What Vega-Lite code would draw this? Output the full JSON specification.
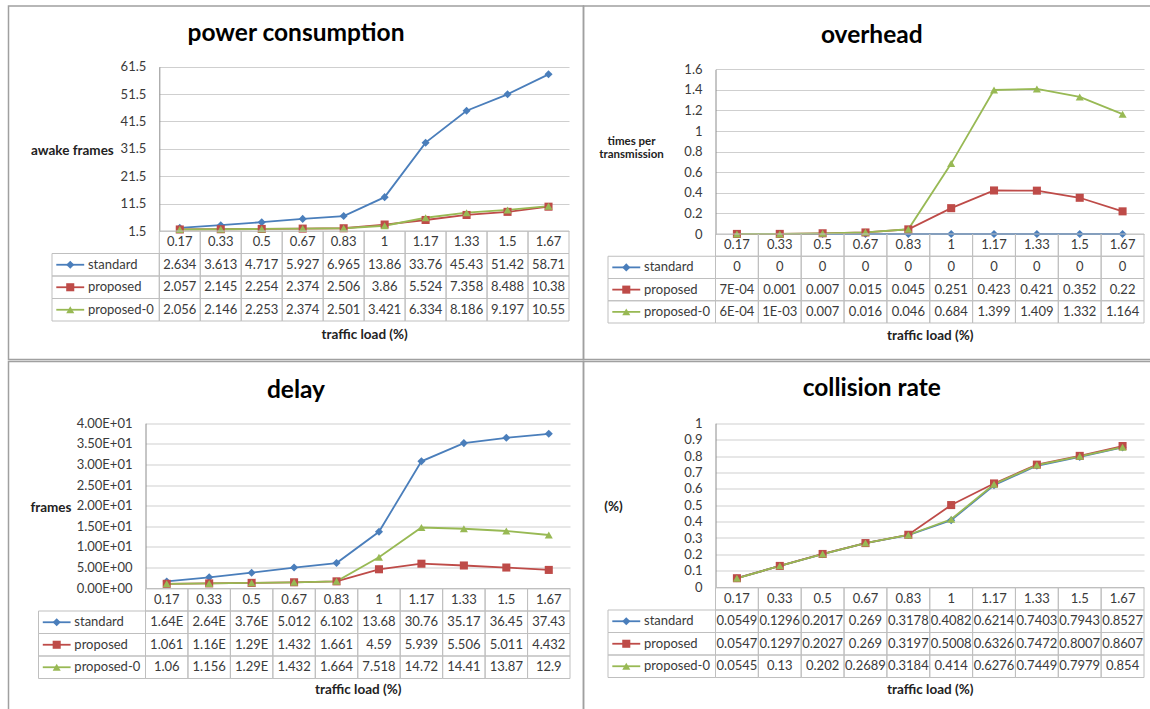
{
  "$schema": "https://vega.github.io/schema/vega-lite/v6.json",
  "background": "white",
  "padding": {"left": 7.5, "top": 5, "right": 0, "bottom": 0},
  "columns": 2,
  "spacing": {"row": 1.5, "column": 0},
  "bounds": "flush",
  "datasets": {
    "d": [
      {"c":"p","x":"0.17","s":"standard","v":2.634,"t":"2.634"},
      {"c":"p","x":"0.33","s":"standard","v":3.613,"t":"3.613"},
      {"c":"p","x":"0.5","s":"standard","v":4.717,"t":"4.717"},
      {"c":"p","x":"0.67","s":"standard","v":5.927,"t":"5.927"},
      {"c":"p","x":"0.83","s":"standard","v":6.965,"t":"6.965"},
      {"c":"p","x":"1","s":"standard","v":13.86,"t":"13.86"},
      {"c":"p","x":"1.17","s":"standard","v":33.76,"t":"33.76"},
      {"c":"p","x":"1.33","s":"standard","v":45.43,"t":"45.43"},
      {"c":"p","x":"1.5","s":"standard","v":51.42,"t":"51.42"},
      {"c":"p","x":"1.67","s":"standard","v":58.71,"t":"58.71"},
      {"c":"p","x":"0.17","s":"proposed","v":2.057,"t":"2.057"},
      {"c":"p","x":"0.33","s":"proposed","v":2.145,"t":"2.145"},
      {"c":"p","x":"0.5","s":"proposed","v":2.254,"t":"2.254"},
      {"c":"p","x":"0.67","s":"proposed","v":2.374,"t":"2.374"},
      {"c":"p","x":"0.83","s":"proposed","v":2.506,"t":"2.506"},
      {"c":"p","x":"1","s":"proposed","v":3.86,"t":"3.86"},
      {"c":"p","x":"1.17","s":"proposed","v":5.524,"t":"5.524"},
      {"c":"p","x":"1.33","s":"proposed","v":7.358,"t":"7.358"},
      {"c":"p","x":"1.5","s":"proposed","v":8.488,"t":"8.488"},
      {"c":"p","x":"1.67","s":"proposed","v":10.38,"t":"10.38"},
      {"c":"p","x":"0.17","s":"proposed-0","v":2.056,"t":"2.056"},
      {"c":"p","x":"0.33","s":"proposed-0","v":2.146,"t":"2.146"},
      {"c":"p","x":"0.5","s":"proposed-0","v":2.253,"t":"2.253"},
      {"c":"p","x":"0.67","s":"proposed-0","v":2.374,"t":"2.374"},
      {"c":"p","x":"0.83","s":"proposed-0","v":2.501,"t":"2.501"},
      {"c":"p","x":"1","s":"proposed-0","v":3.421,"t":"3.421"},
      {"c":"p","x":"1.17","s":"proposed-0","v":6.334,"t":"6.334"},
      {"c":"p","x":"1.33","s":"proposed-0","v":8.186,"t":"8.186"},
      {"c":"p","x":"1.5","s":"proposed-0","v":9.197,"t":"9.197"},
      {"c":"p","x":"1.67","s":"proposed-0","v":10.55,"t":"10.55"},

      {"c":"o","x":"0.17","s":"standard","v":0,"t":"0"},
      {"c":"o","x":"0.33","s":"standard","v":0,"t":"0"},
      {"c":"o","x":"0.5","s":"standard","v":0,"t":"0"},
      {"c":"o","x":"0.67","s":"standard","v":0,"t":"0"},
      {"c":"o","x":"0.83","s":"standard","v":0,"t":"0"},
      {"c":"o","x":"1","s":"standard","v":0,"t":"0"},
      {"c":"o","x":"1.17","s":"standard","v":0,"t":"0"},
      {"c":"o","x":"1.33","s":"standard","v":0,"t":"0"},
      {"c":"o","x":"1.5","s":"standard","v":0,"t":"0"},
      {"c":"o","x":"1.67","s":"standard","v":0,"t":"0"},
      {"c":"o","x":"0.17","s":"proposed","v":0.0007,"t":"7E-04"},
      {"c":"o","x":"0.33","s":"proposed","v":0.001,"t":"0.001"},
      {"c":"o","x":"0.5","s":"proposed","v":0.007,"t":"0.007"},
      {"c":"o","x":"0.67","s":"proposed","v":0.015,"t":"0.015"},
      {"c":"o","x":"0.83","s":"proposed","v":0.045,"t":"0.045"},
      {"c":"o","x":"1","s":"proposed","v":0.251,"t":"0.251"},
      {"c":"o","x":"1.17","s":"proposed","v":0.423,"t":"0.423"},
      {"c":"o","x":"1.33","s":"proposed","v":0.421,"t":"0.421"},
      {"c":"o","x":"1.5","s":"proposed","v":0.352,"t":"0.352"},
      {"c":"o","x":"1.67","s":"proposed","v":0.22,"t":"0.22"},
      {"c":"o","x":"0.17","s":"proposed-0","v":0.0006,"t":"6E-04"},
      {"c":"o","x":"0.33","s":"proposed-0","v":0.001,"t":"1E-03"},
      {"c":"o","x":"0.5","s":"proposed-0","v":0.007,"t":"0.007"},
      {"c":"o","x":"0.67","s":"proposed-0","v":0.016,"t":"0.016"},
      {"c":"o","x":"0.83","s":"proposed-0","v":0.046,"t":"0.046"},
      {"c":"o","x":"1","s":"proposed-0","v":0.684,"t":"0.684"},
      {"c":"o","x":"1.17","s":"proposed-0","v":1.399,"t":"1.399"},
      {"c":"o","x":"1.33","s":"proposed-0","v":1.409,"t":"1.409"},
      {"c":"o","x":"1.5","s":"proposed-0","v":1.332,"t":"1.332"},
      {"c":"o","x":"1.67","s":"proposed-0","v":1.164,"t":"1.164"},

      {"c":"d","x":"0.17","s":"standard","v":1.64,"t":"1.64E"},
      {"c":"d","x":"0.33","s":"standard","v":2.64,"t":"2.64E"},
      {"c":"d","x":"0.5","s":"standard","v":3.76,"t":"3.76E"},
      {"c":"d","x":"0.67","s":"standard","v":5.012,"t":"5.012"},
      {"c":"d","x":"0.83","s":"standard","v":6.102,"t":"6.102"},
      {"c":"d","x":"1","s":"standard","v":13.68,"t":"13.68"},
      {"c":"d","x":"1.17","s":"standard","v":30.76,"t":"30.76"},
      {"c":"d","x":"1.33","s":"standard","v":35.17,"t":"35.17"},
      {"c":"d","x":"1.5","s":"standard","v":36.45,"t":"36.45"},
      {"c":"d","x":"1.67","s":"standard","v":37.43,"t":"37.43"},
      {"c":"d","x":"0.17","s":"proposed","v":1.061,"t":"1.061"},
      {"c":"d","x":"0.33","s":"proposed","v":1.16,"t":"1.16E"},
      {"c":"d","x":"0.5","s":"proposed","v":1.29,"t":"1.29E"},
      {"c":"d","x":"0.67","s":"proposed","v":1.432,"t":"1.432"},
      {"c":"d","x":"0.83","s":"proposed","v":1.661,"t":"1.661"},
      {"c":"d","x":"1","s":"proposed","v":4.59,"t":"4.59"},
      {"c":"d","x":"1.17","s":"proposed","v":5.939,"t":"5.939"},
      {"c":"d","x":"1.33","s":"proposed","v":5.506,"t":"5.506"},
      {"c":"d","x":"1.5","s":"proposed","v":5.011,"t":"5.011"},
      {"c":"d","x":"1.67","s":"proposed","v":4.432,"t":"4.432"},
      {"c":"d","x":"0.17","s":"proposed-0","v":1.06,"t":"1.06"},
      {"c":"d","x":"0.33","s":"proposed-0","v":1.156,"t":"1.156"},
      {"c":"d","x":"0.5","s":"proposed-0","v":1.29,"t":"1.29E"},
      {"c":"d","x":"0.67","s":"proposed-0","v":1.432,"t":"1.432"},
      {"c":"d","x":"0.83","s":"proposed-0","v":1.664,"t":"1.664"},
      {"c":"d","x":"1","s":"proposed-0","v":7.518,"t":"7.518"},
      {"c":"d","x":"1.17","s":"proposed-0","v":14.72,"t":"14.72"},
      {"c":"d","x":"1.33","s":"proposed-0","v":14.41,"t":"14.41"},
      {"c":"d","x":"1.5","s":"proposed-0","v":13.87,"t":"13.87"},
      {"c":"d","x":"1.67","s":"proposed-0","v":12.9,"t":"12.9"},

      {"c":"r","x":"0.17","s":"standard","v":0.0549,"t":"0.0549"},
      {"c":"r","x":"0.33","s":"standard","v":0.1296,"t":"0.1296"},
      {"c":"r","x":"0.5","s":"standard","v":0.2017,"t":"0.2017"},
      {"c":"r","x":"0.67","s":"standard","v":0.269,"t":"0.269"},
      {"c":"r","x":"0.83","s":"standard","v":0.3178,"t":"0.3178"},
      {"c":"r","x":"1","s":"standard","v":0.4082,"t":"0.4082"},
      {"c":"r","x":"1.17","s":"standard","v":0.6214,"t":"0.6214"},
      {"c":"r","x":"1.33","s":"standard","v":0.7403,"t":"0.7403"},
      {"c":"r","x":"1.5","s":"standard","v":0.7943,"t":"0.7943"},
      {"c":"r","x":"1.67","s":"standard","v":0.8527,"t":"0.8527"},
      {"c":"r","x":"0.17","s":"proposed","v":0.0547,"t":"0.0547"},
      {"c":"r","x":"0.33","s":"proposed","v":0.1297,"t":"0.1297"},
      {"c":"r","x":"0.5","s":"proposed","v":0.2027,"t":"0.2027"},
      {"c":"r","x":"0.67","s":"proposed","v":0.269,"t":"0.269"},
      {"c":"r","x":"0.83","s":"proposed","v":0.3197,"t":"0.3197"},
      {"c":"r","x":"1","s":"proposed","v":0.5008,"t":"0.5008"},
      {"c":"r","x":"1.17","s":"proposed","v":0.6326,"t":"0.6326"},
      {"c":"r","x":"1.33","s":"proposed","v":0.7472,"t":"0.7472"},
      {"c":"r","x":"1.5","s":"proposed","v":0.8007,"t":"0.8007"},
      {"c":"r","x":"1.67","s":"proposed","v":0.8607,"t":"0.8607"},
      {"c":"r","x":"0.17","s":"proposed-0","v":0.0545,"t":"0.0545"},
      {"c":"r","x":"0.33","s":"proposed-0","v":0.13,"t":"0.13"},
      {"c":"r","x":"0.5","s":"proposed-0","v":0.202,"t":"0.202"},
      {"c":"r","x":"0.67","s":"proposed-0","v":0.2689,"t":"0.2689"},
      {"c":"r","x":"0.83","s":"proposed-0","v":0.3184,"t":"0.3184"},
      {"c":"r","x":"1","s":"proposed-0","v":0.414,"t":"0.414"},
      {"c":"r","x":"1.17","s":"proposed-0","v":0.6276,"t":"0.6276"},
      {"c":"r","x":"1.33","s":"proposed-0","v":0.7449,"t":"0.7449"},
      {"c":"r","x":"1.5","s":"proposed-0","v":0.7979,"t":"0.7979"},
      {"c":"r","x":"1.67","s":"proposed-0","v":0.854,"t":"0.854"}
    ]
  },
  "concat": [
    {
      "width": 575, "height": 353.5,
      "data": {"name": "d"},
      "transform": [{"filter": "datum.c === 'p'"}],
      "title": {"text": "power consumption", "frame": "group", "anchor": "middle", "baseline": "middle", "offset": -52, "fontSize": 24.5, "fontWeight": "bold", "color": "#000"},
      "layer": [
        {
          "encoding": {
            "x": {"field": "x", "type": "ordinal", "scale": {"type": "band", "domain": ["0.17","0.33","0.5","0.67","0.83","1","1.17","1.33","1.5","1.67"], "range": [150.8, 560.5], "paddingInner": 0, "paddingOuter": 0}, "axis": null},
            "y": {"field": "v", "type": "quantitative", "scale": {"domain": [1.5, 61.5], "range": [225, 60.7], "nice": false, "zero": false},
                  "axis": {"values": [1.5, 11.5, 21.5, 31.5, 41.5, 51.5, 61.5], "labelExpr": "'' + datum.value", "offset": -150.8, "labelPadding": 13.5, "title": "awake frames", "titleAlign": "right", "titleX": -46, "titleY": 144}},
            "color": {"field": "s", "type": "nominal", "scale": {"domain": ["standard","proposed","proposed-0"], "range": ["#4A7EBB","#BE4B48","#98B954"]}, "legend": null}
          },
          "layer": [
            {"mark": {"type": "line", "strokeWidth": 1.8}},
            {"mark": {"type": "point", "filled": true, "opacity": 1, "size": 65}, "encoding": {"shape": {"field": "s", "type": "nominal", "scale": {"domain": ["standard","proposed","proposed-0"], "range": ["diamond","square","triangle-up"]}, "legend": null}}}
          ]
        },
        {
          "encoding": {
            "x": {"field": "x", "type": "ordinal", "scale": {"type": "band", "domain": ["0.17","0.33","0.5","0.67","0.83","1","1.17","1.33","1.5","1.67"], "range": [150.8, 560.5], "paddingInner": 0, "paddingOuter": 0},
                  "axis": {"orient": "bottom", "labels": false, "ticks": false, "domain": false, "grid": false, "title": "traffic load (%)", "titleY": -25.5, "titleBaseline": "middle"}},
            "y": {"field": "s", "type": "nominal", "scale": {"type": "band", "domain": ["hdr","standard","proposed","proposed-0"], "range": [225, 315], "paddingInner": 0, "paddingOuter": 0}, "axis": null}
          },
          "layer": [
            {"mark": {"type": "rect", "fill": "#ffffff", "fillOpacity": 0, "stroke": "#bfbfbf", "strokeWidth": 1}},
            {"mark": {"type": "text", "fontSize": 13, "color": "#3a3a3a"}, "encoding": {"text": {"field": "t"}}},
            {"transform": [{"filter": "datum.s === 'standard'"}], "mark": {"type": "rect", "fill": "#ffffff", "fillOpacity": 0, "stroke": "#bfbfbf", "strokeWidth": 1}, "encoding": {"y": {"datum": "hdr", "type": "nominal"}}},
            {"transform": [{"filter": "datum.s === 'standard'"}], "mark": {"type": "text", "fontSize": 13, "color": "#3a3a3a"}, "encoding": {"y": {"datum": "hdr", "type": "nominal"}, "text": {"field": "x"}}}
          ]
        },
        {
          "transform": [{"filter": "datum.x === '0.17'"}],
          "encoding": {
            "y": {"field": "s", "type": "nominal", "scale": {"type": "band", "domain": ["hdr","standard","proposed","proposed-0"], "range": [225, 315], "paddingInner": 0, "paddingOuter": 0}, "axis": null}
          },
          "layer": [
            {"mark": {"type": "rect", "fill": "#ffffff", "fillOpacity": 0, "stroke": "#bfbfbf", "strokeWidth": 1}, "encoding": {"x": {"datum": 0, "type": "quantitative", "scale": {"domain": [0, 1], "range": [43.5, 150.8], "nice": false, "zero": false}, "axis": null}, "x2": {"datum": 1}}},
            {"mark": {"type": "rule", "strokeWidth": 1.8}, "encoding": {"x": {"datum": 0.04, "type": "quantitative"}, "x2": {"datum": 0.3}, "color": {"field": "s", "type": "nominal", "legend": null}}},
            {"mark": {"type": "point", "filled": true, "opacity": 1, "size": 65}, "encoding": {"x": {"datum": 0.17, "type": "quantitative"}, "color": {"field": "s", "type": "nominal", "legend": null}, "shape": {"field": "s", "type": "nominal", "legend": null}}},
            {"mark": {"type": "text", "align": "left", "fontSize": 13, "color": "#3a3a3a"}, "encoding": {"x": {"datum": 0.335, "type": "quantitative"}, "text": {"field": "s"}}}
          ]
        }
      ],
      "resolve": {"scale": {"x": "independent", "y": "independent"}}
    },
    {
      "width": 568.5, "height": 353.5,
      "data": {"name": "d"},
      "transform": [{"filter": "datum.c === 'o'"}],
      "title": {"text": "overhead", "frame": "group", "anchor": "middle", "baseline": "middle", "offset": -54, "dx": 4, "fontSize": 24.5, "fontWeight": "bold", "color": "#000"},
      "layer": [
        {
          "encoding": {
            "x": {"field": "x", "type": "ordinal", "scale": {"type": "band", "domain": ["0.17","0.33","0.5","0.67","0.83","1","1.17","1.33","1.5","1.67"], "range": [132, 560.5], "paddingInner": 0, "paddingOuter": 0}, "axis": null},
            "y": {"field": "v", "type": "quantitative", "scale": {"domain": [0, 1.6], "range": [228, 63.3], "nice": false, "zero": false},
                  "axis": {"values": [0, 0.2, 0.4, 0.6, 0.8, 1, 1.2, 1.4, 1.6], "labelExpr": "'' + datum.value", "offset": -132, "labelPadding": 13.5, "title": ["times per", "transmission"], "titleFontSize": 11.5, "titleLineHeight": 13.5, "titleAlign": "center", "titleX": -84.5, "titleY": 135}},
            "color": {"field": "s", "type": "nominal", "scale": {"domain": ["standard","proposed","proposed-0"], "range": ["#4A7EBB","#BE4B48","#98B954"]}, "legend": null}
          },
          "layer": [
            {"mark": {"type": "line", "strokeWidth": 1.8}},
            {"mark": {"type": "point", "filled": true, "opacity": 1, "size": 65}, "encoding": {"shape": {"field": "s", "type": "nominal", "scale": {"domain": ["standard","proposed","proposed-0"], "range": ["diamond","square","triangle-up"]}, "legend": null}}}
          ]
        },
        {
          "encoding": {
            "x": {"field": "x", "type": "ordinal", "scale": {"type": "band", "domain": ["0.17","0.33","0.5","0.67","0.83","1","1.17","1.33","1.5","1.67"], "range": [132, 560.5], "paddingInner": 0, "paddingOuter": 0},
                  "axis": {"orient": "bottom", "labels": false, "ticks": false, "domain": false, "grid": false, "title": "traffic load (%)", "titleY": -24.5, "titleBaseline": "middle"}},
            "y": {"field": "s", "type": "nominal", "scale": {"type": "band", "domain": ["hdr","standard","proposed","proposed-0"], "range": [228, 317], "paddingInner": 0, "paddingOuter": 0}, "axis": null}
          },
          "layer": [
            {"mark": {"type": "rect", "fill": "#ffffff", "fillOpacity": 0, "stroke": "#bfbfbf", "strokeWidth": 1}},
            {"mark": {"type": "text", "fontSize": 13, "color": "#3a3a3a"}, "encoding": {"text": {"field": "t"}}},
            {"transform": [{"filter": "datum.s === 'standard'"}], "mark": {"type": "rect", "fill": "#ffffff", "fillOpacity": 0, "stroke": "#bfbfbf", "strokeWidth": 1}, "encoding": {"y": {"datum": "hdr", "type": "nominal"}}},
            {"transform": [{"filter": "datum.s === 'standard'"}], "mark": {"type": "text", "fontSize": 13, "color": "#3a3a3a"}, "encoding": {"y": {"datum": "hdr", "type": "nominal"}, "text": {"field": "x"}}}
          ]
        },
        {
          "transform": [{"filter": "datum.x === '0.17'"}],
          "encoding": {
            "y": {"field": "s", "type": "nominal", "scale": {"type": "band", "domain": ["hdr","standard","proposed","proposed-0"], "range": [228, 317], "paddingInner": 0, "paddingOuter": 0}, "axis": null}
          },
          "layer": [
            {"mark": {"type": "rect", "fill": "#ffffff", "fillOpacity": 0, "stroke": "#bfbfbf", "strokeWidth": 1}, "encoding": {"x": {"datum": 0, "type": "quantitative", "scale": {"domain": [0, 1], "range": [24.5, 132], "nice": false, "zero": false}, "axis": null}, "x2": {"datum": 1}}},
            {"mark": {"type": "rule", "strokeWidth": 1.8}, "encoding": {"x": {"datum": 0.04, "type": "quantitative"}, "x2": {"datum": 0.3}, "color": {"field": "s", "type": "nominal", "legend": null}}},
            {"mark": {"type": "point", "filled": true, "opacity": 1, "size": 65}, "encoding": {"x": {"datum": 0.17, "type": "quantitative"}, "color": {"field": "s", "type": "nominal", "legend": null}, "shape": {"field": "s", "type": "nominal", "legend": null}}},
            {"mark": {"type": "text", "align": "left", "fontSize": 13, "color": "#3a3a3a"}, "encoding": {"x": {"datum": 0.335, "type": "quantitative"}, "text": {"field": "s"}}}
          ]
        }
      ],
      "resolve": {"scale": {"x": "independent", "y": "independent"}}
    },
    {
      "width": 575, "height": 350,
      "data": {"name": "d"},
      "transform": [{"filter": "datum.c === 'd'"}],
      "title": {"text": "delay", "frame": "group", "anchor": "middle", "baseline": "middle", "offset": -54, "fontSize": 24.5, "fontWeight": "bold", "color": "#000"},
      "layer": [
        {
          "encoding": {
            "x": {"field": "x", "type": "ordinal", "scale": {"type": "band", "domain": ["0.17","0.33","0.5","0.67","0.83","1","1.17","1.33","1.5","1.67"], "range": [137, 561.5], "paddingInner": 0, "paddingOuter": 0}, "axis": null},
            "y": {"field": "v", "type": "quantitative", "scale": {"domain": [0, 40], "range": [226.7, 61.7], "nice": false, "zero": false},
                  "axis": {"values": [0, 5, 10, 15, 20, 25, 30, 35, 40], "labelExpr": "replace(replace(format(datum.value, '.2e'), 'e+', 'E+0'), 'e-', 'E-0')", "offset": -137, "labelPadding": 13.5, "title": "frames", "titleAlign": "right", "titleX": -74.5, "titleY": 146}},
            "color": {"field": "s", "type": "nominal", "scale": {"domain": ["standard","proposed","proposed-0"], "range": ["#4A7EBB","#BE4B48","#98B954"]}, "legend": null}
          },
          "layer": [
            {"mark": {"type": "line", "strokeWidth": 1.8}},
            {"mark": {"type": "point", "filled": true, "opacity": 1, "size": 65}, "encoding": {"shape": {"field": "s", "type": "nominal", "scale": {"domain": ["standard","proposed","proposed-0"], "range": ["diamond","square","triangle-up"]}, "legend": null}}}
          ]
        },
        {
          "encoding": {
            "x": {"field": "x", "type": "ordinal", "scale": {"type": "band", "domain": ["0.17","0.33","0.5","0.67","0.83","1","1.17","1.33","1.5","1.67"], "range": [137, 561.5], "paddingInner": 0, "paddingOuter": 0},
                  "axis": {"orient": "bottom", "labels": false, "ticks": false, "domain": false, "grid": false, "title": "traffic load (%)", "titleY": -22, "titleBaseline": "middle"}},
            "y": {"field": "s", "type": "nominal", "scale": {"type": "band", "domain": ["hdr","standard","proposed","proposed-0"], "range": [227, 317], "paddingInner": 0, "paddingOuter": 0}, "axis": null}
          },
          "layer": [
            {"mark": {"type": "rect", "fill": "#ffffff", "fillOpacity": 0, "stroke": "#bfbfbf", "strokeWidth": 1}},
            {"mark": {"type": "text", "fontSize": 13, "color": "#3a3a3a"}, "encoding": {"text": {"field": "t"}}},
            {"transform": [{"filter": "datum.s === 'standard'"}], "mark": {"type": "rect", "fill": "#ffffff", "fillOpacity": 0, "stroke": "#bfbfbf", "strokeWidth": 1}, "encoding": {"y": {"datum": "hdr", "type": "nominal"}}},
            {"transform": [{"filter": "datum.s === 'standard'"}], "mark": {"type": "text", "fontSize": 13, "color": "#3a3a3a"}, "encoding": {"y": {"datum": "hdr", "type": "nominal"}, "text": {"field": "x"}}}
          ]
        },
        {
          "transform": [{"filter": "datum.x === '0.17'"}],
          "encoding": {
            "y": {"field": "s", "type": "nominal", "scale": {"type": "band", "domain": ["hdr","standard","proposed","proposed-0"], "range": [227, 317], "paddingInner": 0, "paddingOuter": 0}, "axis": null}
          },
          "layer": [
            {"mark": {"type": "rect", "fill": "#ffffff", "fillOpacity": 0, "stroke": "#bfbfbf", "strokeWidth": 1}, "encoding": {"x": {"datum": 0, "type": "quantitative", "scale": {"domain": [0, 1], "range": [30, 137], "nice": false, "zero": false}, "axis": null}, "x2": {"datum": 1}}},
            {"mark": {"type": "rule", "strokeWidth": 1.8}, "encoding": {"x": {"datum": 0.04, "type": "quantitative"}, "x2": {"datum": 0.3}, "color": {"field": "s", "type": "nominal", "legend": null}}},
            {"mark": {"type": "point", "filled": true, "opacity": 1, "size": 65}, "encoding": {"x": {"datum": 0.17, "type": "quantitative"}, "color": {"field": "s", "type": "nominal", "legend": null}, "shape": {"field": "s", "type": "nominal", "legend": null}}},
            {"mark": {"type": "text", "align": "left", "fontSize": 13, "color": "#3a3a3a"}, "encoding": {"x": {"datum": 0.335, "type": "quantitative"}, "text": {"field": "s"}}}
          ]
        }
      ],
      "resolve": {"scale": {"x": "independent", "y": "independent"}}
    },
    {
      "width": 568.5, "height": 350,
      "data": {"name": "d"},
      "transform": [{"filter": "datum.c === 'r'"}],
      "title": {"text": "collision rate", "frame": "group", "anchor": "middle", "baseline": "middle", "offset": -52, "dx": 4, "fontSize": 24.5, "fontWeight": "bold", "color": "#000"},
      "layer": [
        {
          "encoding": {
            "x": {"field": "x", "type": "ordinal", "scale": {"type": "band", "domain": ["0.17","0.33","0.5","0.67","0.83","1","1.17","1.33","1.5","1.67"], "range": [132, 560.5], "paddingInner": 0, "paddingOuter": 0}, "axis": null},
            "y": {"field": "v", "type": "quantitative", "scale": {"domain": [0, 1], "range": [225.7, 61.7], "nice": false, "zero": false},
                  "axis": {"values": [0, 0.1, 0.2, 0.3, 0.4, 0.5, 0.6, 0.7, 0.8, 0.9, 1], "labelExpr": "'' + datum.value", "offset": -132, "labelPadding": 13.5, "title": "(%)", "titleAlign": "center", "titleX": -102.5, "titleY": 145}},
            "color": {"field": "s", "type": "nominal", "scale": {"domain": ["standard","proposed","proposed-0"], "range": ["#4A7EBB","#BE4B48","#98B954"]}, "legend": null}
          },
          "layer": [
            {"mark": {"type": "line", "strokeWidth": 1.8}},
            {"mark": {"type": "point", "filled": true, "opacity": 1, "size": 65}, "encoding": {"shape": {"field": "s", "type": "nominal", "scale": {"domain": ["standard","proposed","proposed-0"], "range": ["diamond","square","triangle-up"]}, "legend": null}}}
          ]
        },
        {
          "encoding": {
            "x": {"field": "x", "type": "ordinal", "scale": {"type": "band", "domain": ["0.17","0.33","0.5","0.67","0.83","1","1.17","1.33","1.5","1.67"], "range": [132, 560.5], "paddingInner": 0, "paddingOuter": 0},
                  "axis": {"orient": "bottom", "labels": false, "ticks": false, "domain": false, "grid": false, "title": "traffic load (%)", "titleY": -22, "titleBaseline": "middle"}},
            "y": {"field": "s", "type": "nominal", "scale": {"type": "band", "domain": ["hdr","standard","proposed","proposed-0"], "range": [226, 316], "paddingInner": 0, "paddingOuter": 0}, "axis": null}
          },
          "layer": [
            {"mark": {"type": "rect", "fill": "#ffffff", "fillOpacity": 0, "stroke": "#bfbfbf", "strokeWidth": 1}},
            {"mark": {"type": "text", "fontSize": 13, "color": "#3a3a3a"}, "encoding": {"text": {"field": "t"}}},
            {"transform": [{"filter": "datum.s === 'standard'"}], "mark": {"type": "rect", "fill": "#ffffff", "fillOpacity": 0, "stroke": "#bfbfbf", "strokeWidth": 1}, "encoding": {"y": {"datum": "hdr", "type": "nominal"}}},
            {"transform": [{"filter": "datum.s === 'standard'"}], "mark": {"type": "text", "fontSize": 13, "color": "#3a3a3a"}, "encoding": {"y": {"datum": "hdr", "type": "nominal"}, "text": {"field": "x"}}}
          ]
        },
        {
          "transform": [{"filter": "datum.x === '0.17'"}],
          "encoding": {
            "y": {"field": "s", "type": "nominal", "scale": {"type": "band", "domain": ["hdr","standard","proposed","proposed-0"], "range": [226, 316], "paddingInner": 0, "paddingOuter": 0}, "axis": null}
          },
          "layer": [
            {"mark": {"type": "rect", "fill": "#ffffff", "fillOpacity": 0, "stroke": "#bfbfbf", "strokeWidth": 1}, "encoding": {"x": {"datum": 0, "type": "quantitative", "scale": {"domain": [0, 1], "range": [24.5, 132], "nice": false, "zero": false}, "axis": null}, "x2": {"datum": 1}}},
            {"mark": {"type": "rule", "strokeWidth": 1.8}, "encoding": {"x": {"datum": 0.04, "type": "quantitative"}, "x2": {"datum": 0.3}, "color": {"field": "s", "type": "nominal", "legend": null}}},
            {"mark": {"type": "point", "filled": true, "opacity": 1, "size": 65}, "encoding": {"x": {"datum": 0.17, "type": "quantitative"}, "color": {"field": "s", "type": "nominal", "legend": null}, "shape": {"field": "s", "type": "nominal", "legend": null}}},
            {"mark": {"type": "text", "align": "left", "fontSize": 13, "color": "#3a3a3a"}, "encoding": {"x": {"datum": 0.335, "type": "quantitative"}, "text": {"field": "s"}}}
          ]
        }
      ],
      "resolve": {"scale": {"x": "independent", "y": "independent"}}
    }
  ],
  "config": {
    "font": "Lato",
    "view": {"stroke": "#a0a0a0", "strokeWidth": 1.5},
    "axis": {
      "domainColor": "#8c8c8c", "domainWidth": 1,
      "ticks": false,
      "gridColor": "#cfcfcf", "gridWidth": 1,
      "labelFont": "Lato", "labelFontSize": 13, "labelColor": "#3a3a3a",
      "titleFont": "Lato", "titleFontSize": 13.5, "titleFontWeight": "bold", "titleColor": "#222222",
      "titleAngle": 0, "titleBaseline": "middle", "titlePadding": 0
    },
    "title": {"font": "Lato"}
  }
}
